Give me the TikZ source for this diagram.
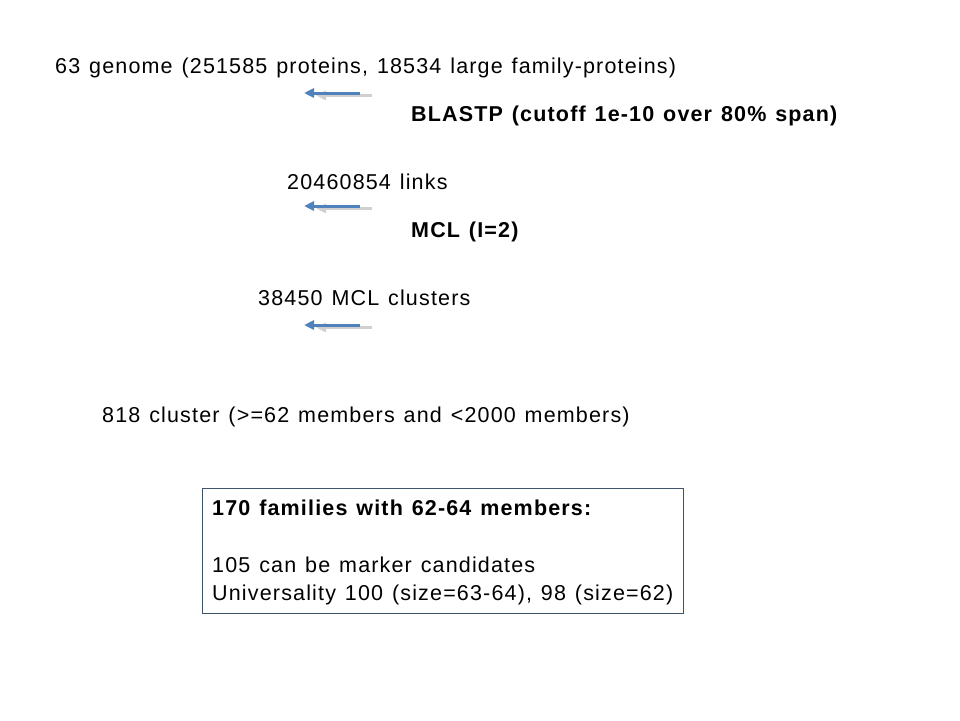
\documentclass[tikz,border=0pt]{standalone}
\usepackage{fontspec}
\setmainfont{Liberation Sans}[LetterSpace=5.4, WordSpace=1.25]
\usetikzlibrary{arrows.meta}
\definecolor{arrblue}{HTML}{4F81BD}
\definecolor{shadowgray}{HTML}{D0D0D0}
\definecolor{boxedge}{HTML}{3F5468}
\tikzset{
  txt/.style={anchor=base west, inner sep=0pt, font=\fontsize{21.5}{25}\selectfont},
  btxt/.style={txt, font=\fontsize{21.5}{25}\selectfont\bfseries},
  flowarrow/.style={draw=arrblue, line width=3pt, -{Triangle[length=10pt,width=9pt]}},
  flowshadow/.style={draw=shadowgray, line width=3pt, -{Triangle[length=10pt,width=9pt]}},
  framebox/.style={draw=boxedge, line width=0.9pt, anchor=north west, inner sep=0pt, minimum width=481pt, minimum height=125pt}
}
\begin{document}
\begin{tikzpicture}[x=1pt,y=1pt]
\useasboundingbox (0,0) rectangle (960,-720);
\node[txt] (genome) at (55,-73) {63 genome (251585 proteins, 18534 large family-proteins)};
\node[btxt] (blastp) at (411,-121) {BLASTP (cutoff 1e-10 over 80\% span)};
\node[txt] (links) at (287,-189.5) {20460854 links};
\node[btxt] (mcl) at (411,-237.5) {MCL (I=2)};
\node[txt] (clusters) at (258,-305.5) {38450 MCL clusters};
\node[txt] (c818) at (102,-422.5) {818 cluster (>=62 members and <2000 members)};
\node[framebox] (box) at (202,-488) {};
\node[btxt] (fam) at (212,-515.5) {170 families with 62-64 members:};
\node[txt] (cand) at (212,-572.5) {105 can be marker candidates};
\node[txt] (univ) at (212,-600.5) {Universality 100 (size=63-64), 98 (size=62)};
\foreach \n/\y in {a/93, b/206, c/325} {
  \coordinate (s\n1) at (372,-\y-2.5);
  \coordinate (s\n2) at (316,-\y-2.5);
  \coordinate (a\n1) at (360,-\y);
  \coordinate (a\n2) at (304,-\y);
  \draw[flowshadow] (s\n1) -- (s\n2);
  \draw[flowarrow] (a\n1) -- (a\n2);
}
\end{tikzpicture}
\end{document}
